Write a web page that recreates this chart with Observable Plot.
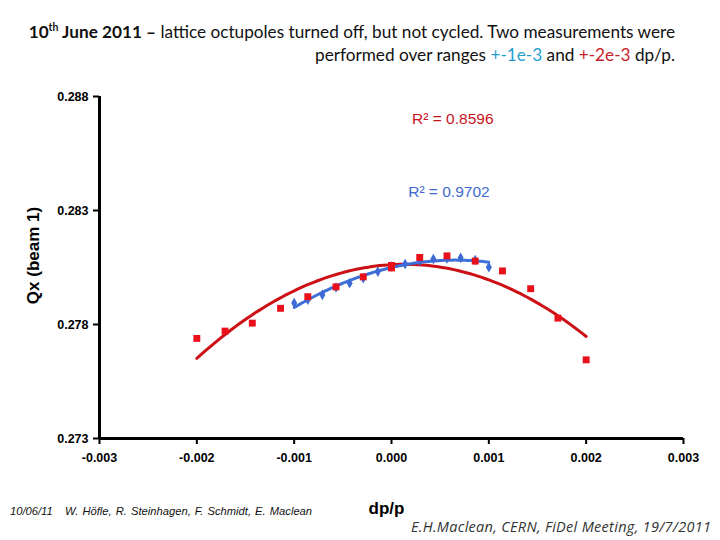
<!DOCTYPE html>
<html>
<head>
<meta charset="utf-8">
<script src="https://cdn.jsdelivr.net/npm/d3@7"></script>
<script src="https://cdn.jsdelivr.net/npm/@observablehq/plot@0.6"></script>
<style>
  html, body { margin: 0; padding: 0; background: #fff; }
  #wrap { position: relative; width: 720px; height: 540px; overflow: hidden; }
  #chart { position: absolute; left: 0; top: 0; }
  .title { position: absolute; right: 45px; top: 20px; width: 695px; text-align: right;
    font-family: Lato, "Open Sans", sans-serif; font-size: 17.2px; line-height: 23px; color: #111; }
  .title sup { font-size: 10.5px; vertical-align: 7px; line-height: 0; }
  .c1 { color: #1f9fd0; } .c2 { color: #c8202a; }
  .foot1 { position: absolute; left: 10px; top: 505px; font-family: "Liberation Sans", Arial, sans-serif;
    font-style: italic; font-size: 11.2px; color: #111; word-spacing: 1px; }
  .foot2 { position: absolute; left: 411px; top: 517px; font-family: "Open Sans", sans-serif;
    font-style: italic; font-size: 14.5px; letter-spacing: 0.3px; color: #333; }
</style>
</head>
<body>
<div id="wrap">
  <div id="chart"></div>
  <div class="title"><b>10<sup>th</sup> June 2011 –</b> lattice octupoles turned off, but not cycled. Two measurements were<br>performed over ranges <span class="c1">+-1e-3</span> and <span class="c2">+-2e-3</span> dp/p.</div>
  <div class="foot1">10/06/11&nbsp;&nbsp; W. Höfle, R. Steinhagen, F. Schmidt, E. Maclean</div>
  <div class="foot2">E.H.Maclean, CERN, FiDel Meeting, 19/7/2011</div>
</div>
<script>
// Measurement over +-2e-3 (red squares)
const redDp = [-0.002, -0.00171, -0.00143, -0.00114, -0.00086, -0.00057, -0.00029, 0.0, 0.0, 0.00029, 0.00057, 0.00086, 0.00114, 0.00143, 0.00171, 0.002];
const redQx = [0.27739, 0.27771, 0.27806, 0.27871, 0.27922, 0.27965, 0.28009, 0.28059, 0.28048, 0.28094, 0.28101, 0.28078, 0.28035, 0.27957, 0.27828, 0.27645];
// Measurement over +-1e-3 (blue diamonds)
const blueDp = [-0.001, -0.00086, -0.00071, -0.00057, -0.00043, -0.00029, -0.00014, 0.0, 0.00014, 0.00029, 0.00043, 0.00057, 0.00071, 0.00086, 0.001];
const blueQx = [0.27894, 0.27909, 0.2793, 0.27962, 0.27981, 0.28003, 0.28032, 0.28054, 0.28065, 0.2808, 0.28087, 0.2809, 0.28093, 0.28083, 0.28051];
const xTicks = [-0.003, -0.002, -0.001, 0, 0.001, 0.002, 0.003];
const yTicks = [0.273, 0.278, 0.283, 0.288];
const r2Labels = [
  {dp: 0.00063, qx: 0.28699, text: "R² = 0.8596", color: "#c8141c"},
  {dp: 0.00059, qx: 0.28383, text: "R² = 0.9702", color: "#3f6bd0"}
];

// least-squares polynomial fit (trendline), x scaled for stability
function polyfit(xs, ys, order) {
  const n = order + 1;
  const A = Array.from({length: n}, () => new Array(n + 1).fill(0));
  xs.forEach((x0, k) => {
    const x = x0 * 1000;
    for (let i = 0; i < n; i++) {
      for (let j = 0; j < n; j++) A[i][j] += Math.pow(x, i + j);
      A[i][n] += ys[k] * Math.pow(x, i);
    }
  });
  for (let i = 0; i < n; i++) {
    let p = i;
    for (let r = i + 1; r < n; r++) if (Math.abs(A[r][i]) > Math.abs(A[p][i])) p = r;
    [A[i], A[p]] = [A[p], A[i]];
    for (let r = 0; r < n; r++) if (r !== i) {
      const f = A[r][i] / A[i][i];
      for (let c = i; c <= n; c++) A[r][c] -= f * A[i][c];
    }
  }
  const coef = A.map((row, i) => row[n] / row[i]);
  return x0 => coef.reduce((s, c, i) => s + c * Math.pow(x0 * 1000, i), 0);
}
function curve(xs, ys, order) {
  const f = polyfit(xs, ys, order);
  const lo = d3.min(xs), hi = d3.max(xs);
  return d3.range(0, 101).map(i => { const x = lo + (hi - lo) * i / 100; return {dp: x, qx: f(x)}; });
}

const red = redDp.map((d, i) => ({dp: d, qx: redQx[i]}));
const blue = blueDp.map((d, i) => ({dp: d, qx: blueQx[i]}));
const redFit = curve(redDp, redQx, 2);
const blueFit = curve(blueDp, blueQx, 2);

const chart = Plot.plot({
  width: 720, height: 540,
  marginLeft: 99, marginRight: 37, marginTop: 96, marginBottom: 102,
  style: {fontFamily: "'Liberation Sans', Arial, sans-serif", fontSize: "12px", color: "#000", background: "transparent"},
  x: {domain: [-0.003, 0.003], label: null},
  y: {domain: [0.273, 0.288], label: null},
  marks: [
    Plot.axisX({ticks: xTicks, tickFormat: d => d.toFixed(3), tickSize: 6, tickPadding: 9, strokeWidth: 2, label: null, fontSize: 12.5, fontWeight: "bold"}),
    Plot.axisY({ticks: yTicks, tickFormat: d => d.toFixed(3), tickSize: 6, tickPadding: 5, strokeWidth: 2, label: null, fontSize: 12.5, fontWeight: "bold"}),
    Plot.ruleX([-0.003], {stroke: "#000", strokeWidth: 3}),
    Plot.ruleY([0.273], {stroke: "#000", strokeWidth: 3}),
    Plot.line(redFit, {x: "dp", y: "qx", stroke: "#cc1016", strokeWidth: 3}),
    Plot.line(blueFit, {x: "dp", y: "qx", stroke: "#3d6fd8", strokeWidth: 3}),
    Plot.dot(blue, {x: "dp", y: "qx", symbol: "diamond", r: 3.2, fill: "#3d6ad6"}),
    Plot.dot(red, {x: "dp", y: "qx", symbol: "square", r: 3.9, fill: "#e8101a"}),
    Plot.text(r2Labels, {x: "dp", y: "qx", text: "text", fill: "color", fontSize: 15.5}),
    Plot.text(["Qx (beam 1)"], {frameAnchor: "left", textAnchor: "middle", rotate: -90, dx: -66, dy: -12, fontWeight: "bold", fontSize: 17}),
    Plot.text(["dp/p"], {frameAnchor: "bottom", dx: -5, dy: 75, fontWeight: "bold", fontSize: 17})
  ]
});
document.getElementById("chart").appendChild(chart);
</script>
</body>
</html>
